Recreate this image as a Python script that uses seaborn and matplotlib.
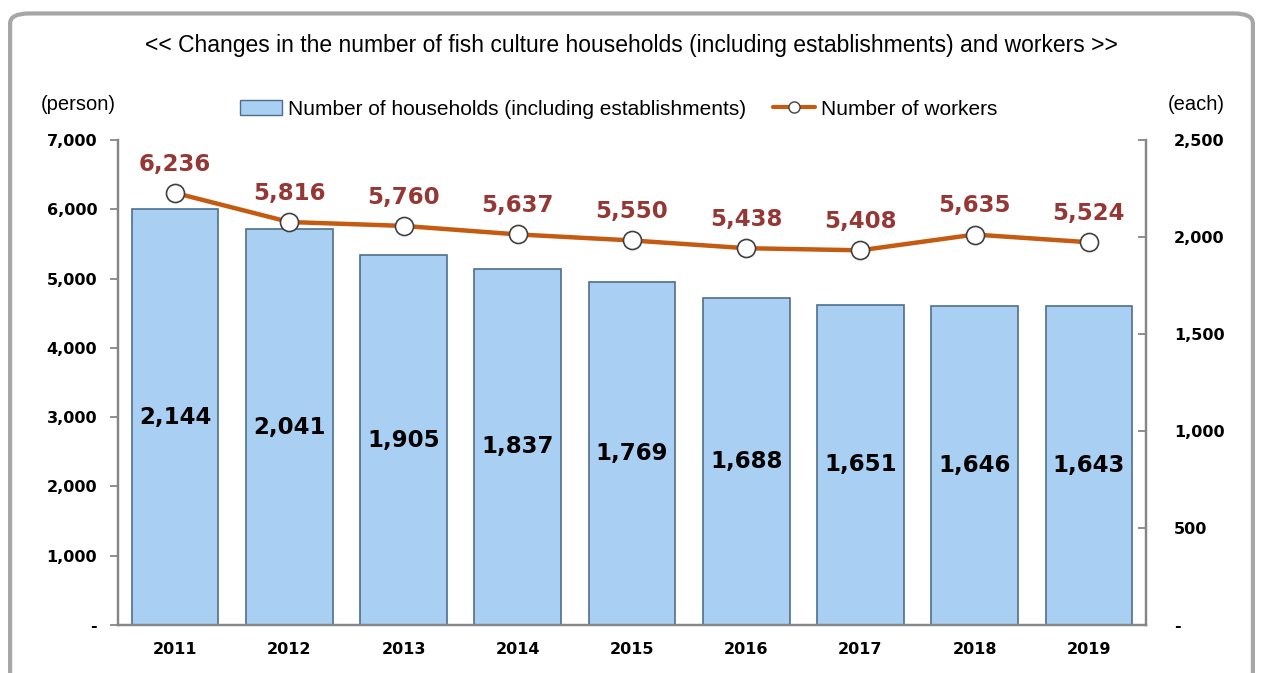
# Fish culture households and workers, 2011-2019

import matplotlib.pyplot as plt
import seaborn as sns
import numpy as np
from matplotlib.patches import FancyBboxPatch, Patch
from matplotlib.lines import Line2D
from matplotlib.ticker import FuncFormatter

years = ['2011', '2012', '2013', '2014', '2015', '2016', '2017', '2018', '2019']
households = [2144, 2041, 1905, 1837, 1769, 1688, 1651, 1646, 1643]
workers = [6236, 5816, 5760, 5637, 5550, 5438, 5408, 5635, 5524]

BAR_COLOR = '#A9CFF2'
LINE_COLOR = '#C55A11'
LABEL_RED = '#953735'
AXIS_GRAY = '#868686'

sns.set_style('white')
plt.rcParams['font.family'] = ['DejaVu Sans']
plt.rcParams['text.color'] = 'black'
plt.rcParams['xtick.color'] = 'black'
plt.rcParams['ytick.color'] = 'black'

fig = plt.figure(figsize=(12.63, 6.73), dpi=100)

# rounded outer frame
frame = FancyBboxPatch((0.008, -0.05), 0.984, 1.03, boxstyle='round,pad=0,rounding_size=0.015',
                       transform=fig.transFigure, facecolor='white', edgecolor='#A6A6A6',
                       linewidth=3, zorder=0)
fig.patches.append(frame)

ax = fig.add_axes([0.0934, 0.0713, 0.814, 0.7207])
ax2 = ax.twinx()
ax.set_zorder(1)
ax2.set_zorder(2)
ax.patch.set_visible(False)
ax2.patch.set_visible(False)

# bars (households) on the primary axes, whose ticks go on the right
sns.barplot(x=years, y=households, ax=ax, color=BAR_COLOR, width=0.76,
            edgecolor='#4F6E8C', linewidth=1.2, saturation=1)
ax.set_ylim(0, 2500)
ax.set_xlim(-0.5, 8.5)

for i, v in enumerate(households):
    ax.text(i, v / 2, f'{v:,}', ha='center', va='center', fontsize=16.5,
            fontweight='bold', color='black')

# line (workers) on the twin axes, whose ticks go on the left
x = np.arange(len(years))
ax2.plot(x, workers, color=LINE_COLOR, linewidth=3.2, marker='o', markersize=13,
         markerfacecolor='white', markeredgecolor='#404040', markeredgewidth=1.2)
ax2.set_ylim(0, 7000)
for i, v in enumerate(workers):
    ax2.text(i, v + 250, f'{v:,}', ha='center', va='bottom', fontsize=16.5,
             fontweight='bold', color=LABEL_RED)

ax.yaxis.tick_right()
ax2.yaxis.tick_left()

fmt = FuncFormatter(lambda v, p: '-' if v == 0 else f'{int(v):,}')
ax.set_yticks(np.arange(0, 2501, 500))
ax.yaxis.set_major_formatter(fmt)
ax2.set_yticks(np.arange(0, 7001, 1000))
ax2.yaxis.set_major_formatter(fmt)

ax.tick_params(axis='y', which='major', direction='in', length=6, width=1.3,
               color=AXIS_GRAY, labelcolor='black', pad=20, labelsize=11.5)
ax2.tick_params(axis='y', which='major', direction='out', length=6, width=1.3,
                color=AXIS_GRAY, labelcolor='black', pad=9, labelsize=11.5)
for lab in ax.get_yticklabels() + ax2.get_yticklabels():
    lab.set_fontweight('bold')

ax.set_xticks(np.arange(-0.5, 9, 1), minor=True)
ax.tick_params(axis='x', which='minor', direction='out', length=7, width=1.3, color=AXIS_GRAY)
ax.tick_params(axis='x', which='major', length=0, pad=12, labelsize=11.5, labelcolor='black')
for lab in ax.get_xticklabels():
    lab.set_fontweight('bold')
ax2.tick_params(axis='x', length=0)

ax.set_xlabel('')
ax.set_ylabel('')
ax2.set_ylabel('')
for a in (ax, ax2):
    a.spines['top'].set_visible(False)
    for s in ('left', 'right', 'bottom'):
        a.spines[s].set_color(AXIS_GRAY)
        a.spines[s].set_linewidth(1.6)
    a.grid(False)

fig.text(0.5, 0.932, '<< Changes in the number of fish culture households (including establishments) and workers >>',
         ha='center', va='center', fontsize=16.5, color='black',
         family=['Liberation Sans Narrow', 'Liberation Sans'])
fig.text(0.062, 0.845, '(person)', ha='center', va='center', fontsize=14.5,
         color='black', family=['Liberation Sans'])
fig.text(0.9475, 0.845, '(each)', ha='center', va='center', fontsize=14.5,
         color='black', family=['Liberation Sans'])

handles = [Patch(facecolor=BAR_COLOR, edgecolor='#4F6E8C'),
           Line2D([0], [0], color=LINE_COLOR, linewidth=3, marker='o', markersize=8,
                  markerfacecolor='white', markeredgecolor='#404040')]
leg = fig.legend(handles, ['Number of households (including establishments)', 'Number of workers'],
                 loc='center', bbox_to_anchor=(0.49, 0.838), ncol=2, frameon=False,
                 prop={'family': 'Liberation Sans', 'size': 15}, handlelength=2.0,
                 handletextpad=0.3, columnspacing=1.3)
for t in leg.get_texts():
    t.set_color('black')

plt.savefig('out.png', dpi=100)
